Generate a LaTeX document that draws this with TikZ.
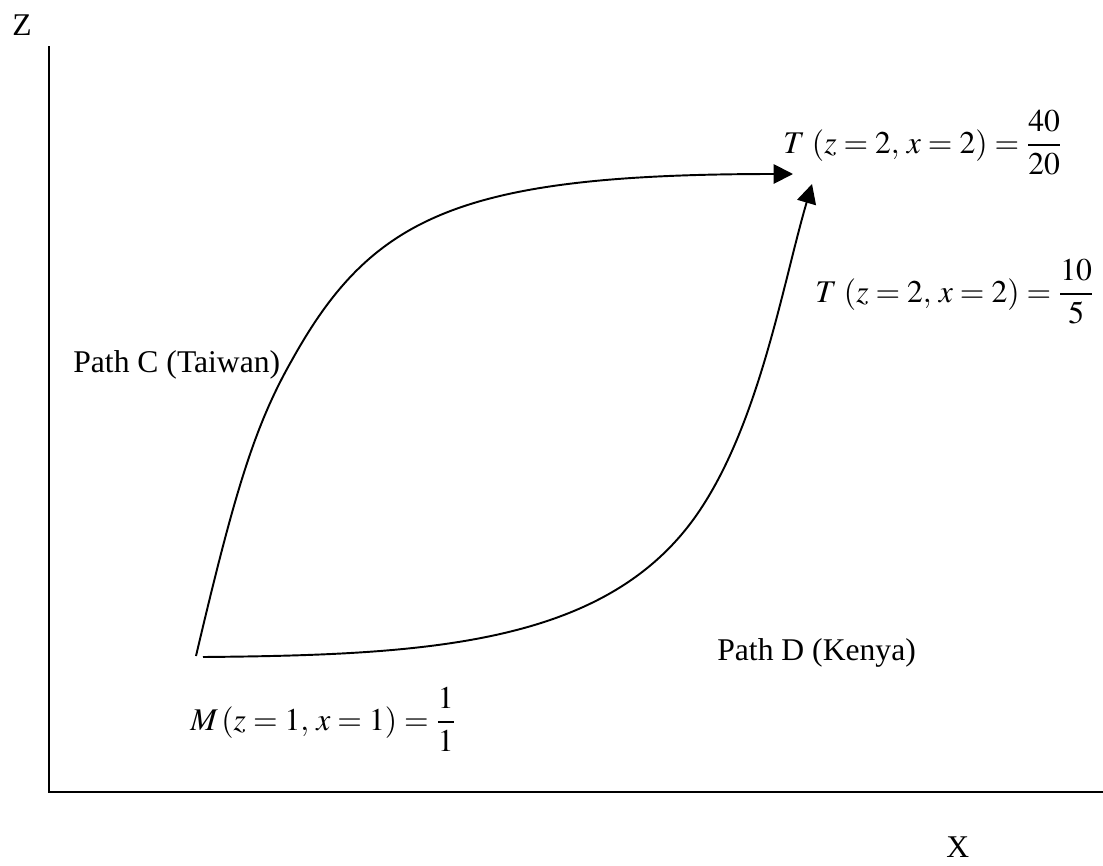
\documentclass[tikz,border=0pt]{standalone}
\usepackage{amsmath}
\usepackage{mathptmx}
\usepackage[no-math]{fontspec}
\setmainfont{Liberation Serif}
\usepackage{tikz}
\usetikzlibrary{arrows.meta}
\tikzstyle{axis} = [line width=1.1pt]
\tikzstyle{route} = [line width=1.1pt, -{Triangle[length=11pt, width=11pt]}]
\tikzstyle{txt} = [inner sep=0pt, anchor=base west, font=\fontsize{18}{22}\selectfont]

\begin{document}
\begin{tikzpicture}[x=0.02cm, y=-0.02cm]
    \useasboundingbox (0,0) rectangle (1103,866);

    % Axes
    \coordinate (ztop) at (49,46);
    \coordinate (origin) at (49,792);
    \coordinate (xend) at (1103,792);
    \draw[axis] (ztop) -- (origin) -- (xend);
    \node[txt] (zname) at (12,35) {Z};
    \node[txt] (xname) at (946,857) {X};

    % Start and end points of the two paths
    \coordinate (startC) at (196,656);
    \coordinate (startD) at (203,657);
    \coordinate (bendC) at (292,360);
    \coordinate (bendD) at (700,510);
    \coordinate (endC) at (793,174);
    \coordinate (endD) at (812,184);

    % Path C
    \draw[route] (startC) .. controls (235,490) and (255,425) .. (bendC)
        .. controls (372,216) and (460,174) .. (endC);

    % Path D
    \draw[route] (startD) .. controls (430,655) and (610,645) .. (bendD)
        .. controls (760,420) and (783,283) .. (endD);

    % Labels
    \node[txt] (pathc) at (73,372) {Path C (Taiwan)};
    \node[txt] (pathd) at (717,660) {Path D (Kenya)};
    \node[txt] (mval) at (190,730) {$M\,(z=1,\,x=1)=\dfrac{1}{1}$};
    \node[txt] (tvalc) at (783,153) {$T\;(z=2,\,x=2)=\dfrac{40}{20}$};
    \node[txt] (tvald) at (815,302) {$T\;(z=2,\,x=2)=\dfrac{10}{5}$};
\end{tikzpicture}
\end{document}
